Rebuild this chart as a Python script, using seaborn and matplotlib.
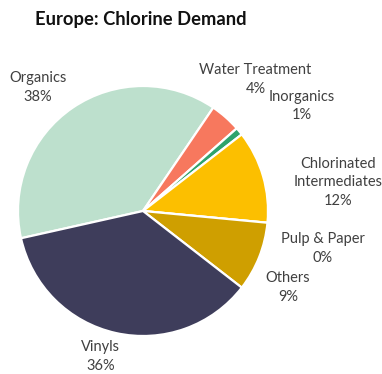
import matplotlib
matplotlib.use("Agg")
import matplotlib.pyplot as plt
import seaborn as sns

sns.set_theme(style="white")
plt.rcParams["font.family"] = ["Lato", "DejaVu Sans"]

# Chlorine demand shares by end use (%)
categories = ["Organics", "Water Treatment", "Inorganics", "Chlorinated\nIntermediates",
              "Pulp & Paper", "Others", "Vinyls"]
shares = [38, 4, 1, 12, 0, 9, 36]
colors = ["#bde0cd", "#f7785e", "#2ea36c", "#fcbf00", "#cf9f00", "#cf9f00", "#3e3d5b"]

# label centres, in pie radii from the pie centre
label_pos = [(-0.84, 0.99), (0.90, 1.05), (1.27, 0.84), (1.56, 0.23),
             (1.44, -0.30), (1.16, -0.61), (-0.34, -1.165)]
line_step = 0.15  # vertical gap between label lines, in pie radii

W, H = 382, 374
fig = plt.figure(figsize=(W / 100, H / 100), dpi=100)
cx, cy, r = 143, 211, 125
ax = fig.add_axes([(cx - r) / W, (H - cy - r) / H, 2 * r / W, 2 * r / H])

wedges, _ = ax.pie(shares, colors=colors, startangle=192.6, counterclock=False,
                   radius=1, wedgeprops=dict(edgecolor="white", linewidth=1.6))
ax.set_xlim(-1, 1)
ax.set_ylim(-1, 1)
ax.set_aspect("equal")
ax.axis("off")

# each label line is its own text, stacked around the label centre
for name, val, (lx, ly) in zip(categories, shares, label_pos):
    lines = name.split("\n") + [f"{val}%"]
    top = ly + line_step * (len(lines) - 1) / 2
    for i, line in enumerate(lines):
        ax.text(lx, top - i * line_step, line, ha="center", va="center",
                fontsize=10.5, color="#404040", clip_on=False)

fig.text(35 / W, 1 - 20 / H, "Europe: Chlorine Demand", ha="left", va="center",
         fontsize=13.2, fontweight="bold", color="#111111")

fig.savefig("out.png", dpi=100)
